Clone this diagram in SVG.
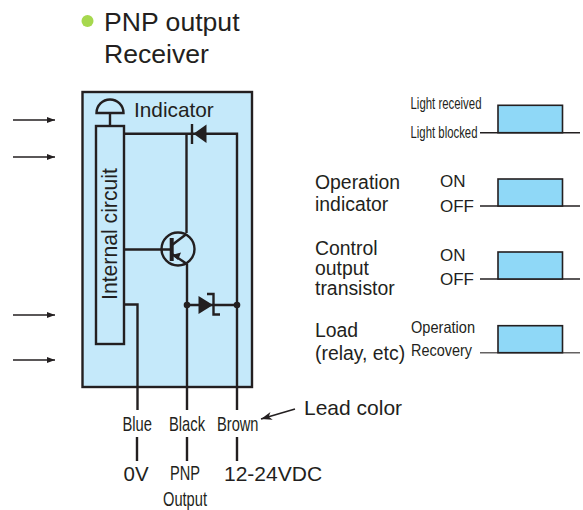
<svg xmlns="http://www.w3.org/2000/svg" width="583" height="510" viewBox="0 0 583 510">
<defs>
<style>
text{font-family:"Liberation Sans",Arial,sans-serif;fill:#231f20}
.w{fill:none;stroke:#231f20;stroke-width:2.400}
.t{fill:none;stroke:#231f20;stroke-width:1.400}
.p{fill:#8fd8f7;stroke:#231f20;stroke-width:1.600}
.k{fill:#231f20;stroke:none}
.l{font-size:21px}
.n{font-size:19.400px}
.b{font-size:21px}
.s{font-size:16.500px}
.o{font-size:17px}
</style>
<marker id="a" markerUnits="userSpaceOnUse" markerWidth="8" markerHeight="6" refX="8" refY="3" orient="auto"><path d="M0 0L8 3L0 6z" fill="#231f20"/></marker>
<marker id="b" markerUnits="userSpaceOnUse" markerWidth="11" markerHeight="8" refX="11" refY="4" orient="auto"><path d="M0 0L11 4L0 8L3 4z" fill="#231f20"/></marker>
</defs>
<rect width="583" height="510" fill="#fff"/>
<g id="title">
<circle cx="87.500" cy="21" r="6" fill="#a6d84e"/>
<text x="104" y="31" font-size="26.600">PNP output</text>
<text x="104" y="63" font-size="26.600">Receiver</text>
</g>
<g id="sensor-box">
<rect x="82.500" y="92" width="169.500" height="295" fill="#c5e9fa" stroke="#231f20" stroke-width="2.400"/>
</g>
<g id="connectors">
<path class="w" d="M124 133.700H237V410M186.500 133.700V233M187 264V410M124 249.500H171M124 304.500H137.500V410M187 305H237"/>
<path class="w" d="M137 437V461M187 437V461M237 437V461"/>
<path class="t" d="M13 120H55" marker-end="url(#a)"/>
<path class="t" d="M13 157H55" marker-end="url(#a)"/>
<path class="t" d="M13 315H55" marker-end="url(#a)"/>
<path class="t" d="M13 360H55" marker-end="url(#a)"/>
<path d="M295 409L261 419" fill="none" stroke="#231f20" stroke-width="1.600" marker-end="url(#b)"/>
</g>
<g id="indicator">
<path class="w" d="M96.500 113A13.500 13.500 0 0 1 123.500 113ZM110 113V126"/>
<text x="134" y="117" font-size="20.800">Indicator</text>
</g>
<g id="internal-circuit">
<rect class="w" x="96" y="126" width="28" height="218"/>
<text transform="translate(117 300) rotate(-90)" font-size="21.200">Internal circuit</text>
</g>
<g id="led-diode">
<path class="k" d="M193.500 133.700L206.500 124.500V143Z"/>
<path class="w" d="M192 124V144"/>
</g>
<g id="transistor">
<circle class="w" cx="178" cy="249" r="16.500"/>
<path d="M171.700 238V261" fill="none" stroke="#231f20" stroke-width="4"/>
<path class="w" d="M172 245L186.500 234M172 254L187 264"/>
<path class="k" d="M172 255L181 252.500L178 260Z"/>
</g>
<g id="zener">
<circle class="k" cx="187" cy="305" r="3.300"/>
<circle class="k" cx="237" cy="305" r="3.300"/>
<path class="k" d="M198.500 296L213 305L198.500 314Z"/>
<path class="w" d="M207 294H213.500V314.500H220"/>
</g>
<g id="leads">
<text class="l" x="122.500" y="431" textLength="29.500" lengthAdjust="spacingAndGlyphs">Blue</text>
<text class="l" x="169" y="431" textLength="36" lengthAdjust="spacingAndGlyphs">Black</text>
<text class="l" x="217" y="431" textLength="41.500" lengthAdjust="spacingAndGlyphs">Brown</text>
<text class="b" x="304" y="415">Lead color</text>
<text class="b" x="123.500" y="480.500" style="font-size:20.500px">0V</text>
<text class="l" x="170" y="480" textLength="30" lengthAdjust="spacingAndGlyphs">PNP</text>
<text class="l" x="163" y="506" textLength="44" lengthAdjust="spacingAndGlyphs">Output</text>
<text class="b" x="224" y="481">12-24VDC</text>
</g>
<g id="timing-light">
<path class="t" d="M480 132.700H580"/>
<rect class="p" x="498" y="105.300" width="64.500" height="27.400"/>
<text class="s" x="410.500" y="109" textLength="71" lengthAdjust="spacingAndGlyphs">Light received</text>
<text class="s" x="410.500" y="138" textLength="67" lengthAdjust="spacingAndGlyphs">Light blocked</text>
</g>
<g id="timing-indicator">
<path class="t" d="M480 206H580"/>
<rect class="p" x="498" y="179" width="64.500" height="27"/>
<text class="n" x="315" y="189">Operation</text>
<text class="n" x="315" y="211">indicator</text>
<text class="o" x="440" y="187">ON</text>
<text class="o" x="440" y="212">OFF</text>
</g>
<g id="timing-transistor">
<path class="t" d="M480 279H580"/>
<rect class="p" x="498" y="252" width="64.500" height="27"/>
<text class="n" x="315" y="254.500">Control</text>
<text class="n" x="315" y="274.500">output</text>
<text class="n" x="315" y="294.500">transistor</text>
<text class="o" x="440" y="261">ON</text>
<text class="o" x="440" y="285">OFF</text>
</g>
<g id="timing-load">
<path class="t" d="M480 352.700H580" stroke-opacity="0.700"/>
<rect class="p" x="498" y="325.700" width="64.500" height="27"/>
<text class="n" x="315" y="337">Load</text>
<text class="n" x="315" y="360">(relay, etc)</text>
<text class="s" x="411" y="333" textLength="64" lengthAdjust="spacingAndGlyphs">Operation</text>
<text class="s" x="411" y="356" textLength="61" lengthAdjust="spacingAndGlyphs">Recovery</text>
</g>
</svg>
